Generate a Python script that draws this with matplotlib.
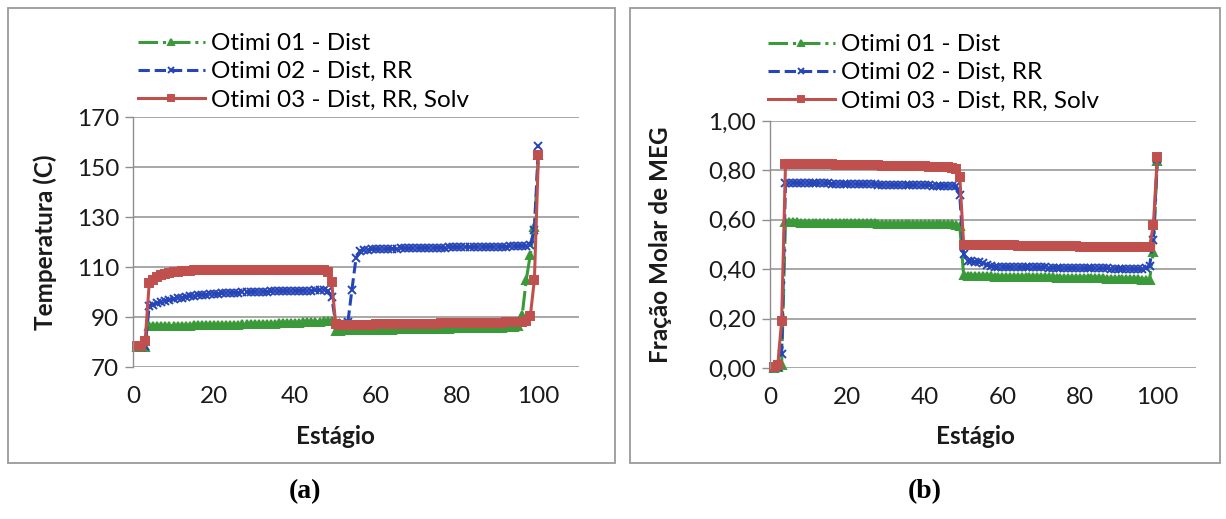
import matplotlib
matplotlib.use("Agg")
import matplotlib.pyplot as plt
from matplotlib.patches import Rectangle
from matplotlib.ticker import FixedLocator, FuncFormatter

# ---------------- data ----------------
stages = list(range(1, 101))

series_labels = ["Otimi 01 - Dist", "Otimi 02 - Dist, RR", "Otimi 03 - Dist, RR, Solv"]

temp_otimi01 = [
    78.0, 78.0, 78.2, 86.3, 86.3, 86.4, 86.4, 86.4, 86.5, 86.5,
    86.5, 86.6, 86.6, 86.6, 86.7, 86.7, 86.7, 86.8, 86.8, 86.8,
    86.9, 86.9, 86.9, 87.0, 87.0, 87.0, 87.1, 87.1, 87.1, 87.2,
    87.2, 87.3, 87.3, 87.4, 87.4, 87.5, 87.5, 87.6, 87.7, 87.7,
    87.8, 87.9, 88.0, 88.0, 88.1, 88.2, 88.3, 88.4, 88.6, 84.6,
    84.6, 84.7, 84.7, 84.7, 84.8, 84.8, 84.8, 84.9, 84.9, 84.9,
    85.0, 85.0, 85.0, 85.0, 85.1, 85.1, 85.1, 85.2, 85.2, 85.2,
    85.2, 85.3, 85.3, 85.3, 85.4, 85.4, 85.4, 85.4, 85.5, 85.5,
    85.5, 85.6, 85.6, 85.6, 85.6, 85.7, 85.7, 85.7, 85.8, 85.8,
    85.8, 85.9, 85.9, 86.0, 86.5, 91.0, 105.0, 115.0, 126.0, 155.0,
]
temp_otimi02 = [
    78.0, 78.0, 78.5, 94.5, 95.0, 95.5, 96.0, 96.4, 96.8, 97.2,
    97.5, 97.8, 98.1, 98.3, 98.5, 98.7, 98.9, 99.0, 99.2, 99.3,
    99.4, 99.5, 99.6, 99.7, 99.8, 99.8, 99.9, 100.0, 100.0, 100.1,
    100.1, 100.2, 100.2, 100.3, 100.3, 100.4, 100.4, 100.4, 100.5, 100.5,
    100.5, 100.6, 100.6, 100.6, 100.7, 100.7, 100.7, 100.5, 98.0, 87.5,
    87.3, 87.3, 88.0, 101.0, 113.5, 116.5, 116.8, 117.0, 117.1, 117.2,
    117.2, 117.3, 117.3, 117.4, 117.4, 117.5, 117.5, 117.5, 117.6, 117.6,
    117.6, 117.7, 117.7, 117.7, 117.8, 117.8, 117.8, 117.9, 117.9, 117.9,
    118.0, 118.0, 118.0, 118.0, 118.1, 118.1, 118.1, 118.1, 118.2, 118.2,
    118.2, 118.2, 118.3, 118.3, 118.3, 118.4, 118.5, 119.0, 125.0, 158.5,
]
temp_otimi03 = [
    78.5, 78.5, 80.5, 103.5, 105.0, 106.0, 106.8, 107.3, 107.7, 108.0,
    108.2, 108.4, 108.5, 108.6, 108.7, 108.8, 108.8, 108.9, 108.9, 109.0,
    109.0, 109.0, 109.0, 109.0, 109.0, 109.0, 109.0, 109.0, 109.0, 109.0,
    109.0, 109.0, 109.0, 109.0, 109.0, 109.0, 109.0, 109.0, 109.0, 109.0,
    109.0, 109.0, 109.0, 109.0, 109.0, 108.9, 108.7, 108.0, 104.0, 87.2,
    86.8, 86.8, 86.9, 86.9, 86.9, 87.0, 87.0, 87.0, 87.0, 87.1,
    87.1, 87.1, 87.1, 87.2, 87.2, 87.2, 87.2, 87.3, 87.3, 87.3,
    87.3, 87.4, 87.4, 87.4, 87.4, 87.5, 87.5, 87.5, 87.5, 87.6,
    87.6, 87.6, 87.6, 87.7, 87.7, 87.7, 87.7, 87.8, 87.8, 87.8,
    87.8, 87.9, 87.9, 88.0, 88.0, 88.1, 88.3, 90.5, 105.0, 155.0,
]

meg_otimi01 = [
    0.001, 0.003, 0.012, 0.590, 0.590, 0.590, 0.590, 0.589, 0.589, 0.589,
    0.589, 0.589, 0.588, 0.588, 0.588, 0.588, 0.588, 0.587, 0.587, 0.587,
    0.587, 0.587, 0.586, 0.586, 0.586, 0.586, 0.586, 0.585, 0.585, 0.585,
    0.585, 0.585, 0.584, 0.584, 0.584, 0.584, 0.584, 0.583, 0.583, 0.583,
    0.583, 0.583, 0.582, 0.582, 0.582, 0.582, 0.581, 0.580, 0.575, 0.375,
    0.372, 0.372, 0.372, 0.371, 0.371, 0.371, 0.371, 0.370, 0.370, 0.370,
    0.370, 0.369, 0.369, 0.369, 0.369, 0.368, 0.368, 0.368, 0.368, 0.367,
    0.367, 0.367, 0.367, 0.366, 0.366, 0.366, 0.366, 0.365, 0.365, 0.365,
    0.364, 0.364, 0.364, 0.363, 0.363, 0.363, 0.362, 0.362, 0.362, 0.361,
    0.361, 0.360, 0.360, 0.359, 0.359, 0.358, 0.358, 0.357, 0.470, 0.840,
]
meg_otimi02 = [
    0.002, 0.006, 0.055, 0.750, 0.750, 0.750, 0.749, 0.749, 0.749, 0.748,
    0.748, 0.748, 0.747, 0.747, 0.747, 0.746, 0.746, 0.746, 0.745, 0.745,
    0.745, 0.744, 0.744, 0.744, 0.743, 0.743, 0.743, 0.742, 0.742, 0.742,
    0.741, 0.741, 0.741, 0.740, 0.740, 0.740, 0.740, 0.739, 0.739, 0.739,
    0.739, 0.738, 0.738, 0.738, 0.738, 0.737, 0.737, 0.735, 0.700, 0.460,
    0.435, 0.433, 0.431, 0.429, 0.425, 0.418, 0.412, 0.410, 0.410, 0.410,
    0.409, 0.409, 0.409, 0.408, 0.408, 0.408, 0.408, 0.407, 0.407, 0.407,
    0.407, 0.406, 0.406, 0.406, 0.406, 0.405, 0.405, 0.405, 0.405, 0.404,
    0.404, 0.404, 0.404, 0.403, 0.403, 0.403, 0.403, 0.402, 0.402, 0.402,
    0.402, 0.402, 0.401, 0.401, 0.401, 0.401, 0.403, 0.412, 0.520, 0.845,
]
meg_otimi03 = [
    0.003, 0.012, 0.190, 0.826, 0.827, 0.827, 0.827, 0.826, 0.826, 0.826,
    0.825, 0.825, 0.825, 0.824, 0.824, 0.824, 0.823, 0.823, 0.823, 0.822,
    0.822, 0.822, 0.821, 0.821, 0.821, 0.820, 0.820, 0.820, 0.819, 0.819,
    0.819, 0.818, 0.818, 0.818, 0.817, 0.817, 0.817, 0.816, 0.816, 0.816,
    0.815, 0.815, 0.815, 0.814, 0.814, 0.813, 0.811, 0.805, 0.775, 0.500,
    0.499, 0.499, 0.498, 0.498, 0.498, 0.497, 0.497, 0.497, 0.497, 0.496,
    0.496, 0.496, 0.496, 0.495, 0.495, 0.495, 0.495, 0.494, 0.494, 0.494,
    0.494, 0.493, 0.493, 0.493, 0.493, 0.492, 0.492, 0.492, 0.492, 0.491,
    0.491, 0.491, 0.491, 0.490, 0.490, 0.490, 0.490, 0.489, 0.489, 0.489,
    0.489, 0.489, 0.488, 0.488, 0.488, 0.488, 0.488, 0.490, 0.580, 0.855,
]

x_ticks = [0, 20, 40, 60, 80, 100]
temp_ticks = [70, 90, 110, 130, 150, 170]
meg_ticks = [0.0, 0.2, 0.4, 0.6, 0.8, 1.0]

# ---------------- style ----------------
W, H = 1226, 519
FONT = ["Lato", "DejaVu Sans"]
plt.rcParams["font.family"] = FONT

colors = ["#3a9a3a", "#2545b8", "#c0504d"]
linestyles = ["-.", "--", "-"]
markers = ["^", "x", "s"]
msizes = [5.8, 5.4, 5.6]
grid_c = "#8f8f8f"
FS = 17.5

fig = plt.figure(figsize=(W / 100, H / 100), dpi=100)
fig.patch.set_facecolor("white")

def fx(px):
    return px / W

def fy(py):
    return 1 - py / H

# panel frames
for (x0, x1) in [(8, 615), (630, 1220)]:
    fig.patches.append(Rectangle((fx(x0), fy(463)), fx(x1 - x0), (463 - 8) / H,
                                 transform=fig.transFigure, fill=False,
                                 edgecolor="#9a9a9a", linewidth=1.3))

def make_axes(left, right, top, bottom):
    return fig.add_axes([fx(left), fy(bottom), fx(right - left), (bottom - top) / H])

axL = make_axes(133, 579, 117, 367)
axR = make_axes(770, 1196, 121, 368)

def style(ax, yticks, ylim, fmt):
    ax.set_xlim(0, 110)
    ax.set_ylim(*ylim)
    ax.xaxis.set_major_locator(FixedLocator(x_ticks))
    ax.yaxis.set_major_locator(FixedLocator(yticks))
    ax.yaxis.set_major_formatter(FuncFormatter(fmt))
    for s in ["top", "right", "bottom"]:
        ax.spines[s].set_visible(False)
    ax.spines["left"].set_color(grid_c)
    ax.spines["left"].set_linewidth(1.0)
    ax.grid(axis="y", color=grid_c, linewidth=1.1)
    ax.set_axisbelow(True)
    ax.tick_params(axis="x", length=0, pad=14, labelsize=FS, colors="#1a1a1a")
    ax.tick_params(axis="y", length=6, width=1.0, color=grid_c, pad=4,
                   labelsize=FS, labelcolor="#1a1a1a")

def plot_series(ax, ys):
    handles = []
    for y, c, ls, m, ms, lab in zip(ys, colors, linestyles, markers, msizes, series_labels):
        h, = ax.plot(stages, y, color=c, linestyle=ls, linewidth=2.2, marker=m,
                     markersize=ms, markeredgewidth=1.4, markeredgecolor=c,
                     markerfacecolor=c, label=lab, clip_on=False)
        handles.append(h)
    return handles

hL = plot_series(axL, [temp_otimi01, temp_otimi02, temp_otimi03])
hR = plot_series(axR, [meg_otimi01, meg_otimi02, meg_otimi03])

style(axL, temp_ticks, (70, 170), lambda v, p: f"{v:.0f}")
style(axR, meg_ticks, (0, 1.0), lambda v, p: f"{v:.2f}".replace(".", ","))

for ax, handles, (lx, ly) in [(axL, hL, (138, 33)), (axR, hR, (768, 34))]:
    leg = ax.legend(handles=handles, loc="upper left",
                    bbox_to_anchor=(fx(lx), fy(ly)), bbox_transform=fig.transFigure,
                    frameon=False, fontsize=FS, handlelength=2.75, handletextpad=0.25,
                    labelspacing=0.3, borderpad=0, borderaxespad=0, numpoints=1)
    for lh in leg.legend_handles:
        lh.set_markersize(4.5)

# axis titles
fig.text(fx(335), fy(437), "Estágio", ha="center", va="center",
         fontsize=FS, fontweight="bold", color="#1a1a1a")
fig.text(fx(975), fy(437), "Estágio", ha="center", va="center",
         fontsize=FS, fontweight="bold", color="#1a1a1a")
fig.text(fx(45), fy(242), "Temperatura (C)", ha="center", va="center",
         rotation=90, fontsize=FS, fontweight="bold", color="#1a1a1a")
fig.text(fx(660), fy(245), "Fração Molar de MEG", ha="center", va="center",
         rotation=90, fontsize=FS, fontweight="bold", color="#1a1a1a")

# panel captions
fig.text(fx(305), fy(492), "(a)", ha="center", va="center", fontsize=20,
         fontweight="bold", family=["Liberation Serif", "DejaVu Serif"])
fig.text(fx(925), fy(492), "(b)", ha="center", va="center", fontsize=20,
         fontweight="bold", family=["Liberation Serif", "DejaVu Serif"])

fig.savefig("out.png", dpi=100, facecolor="white")
